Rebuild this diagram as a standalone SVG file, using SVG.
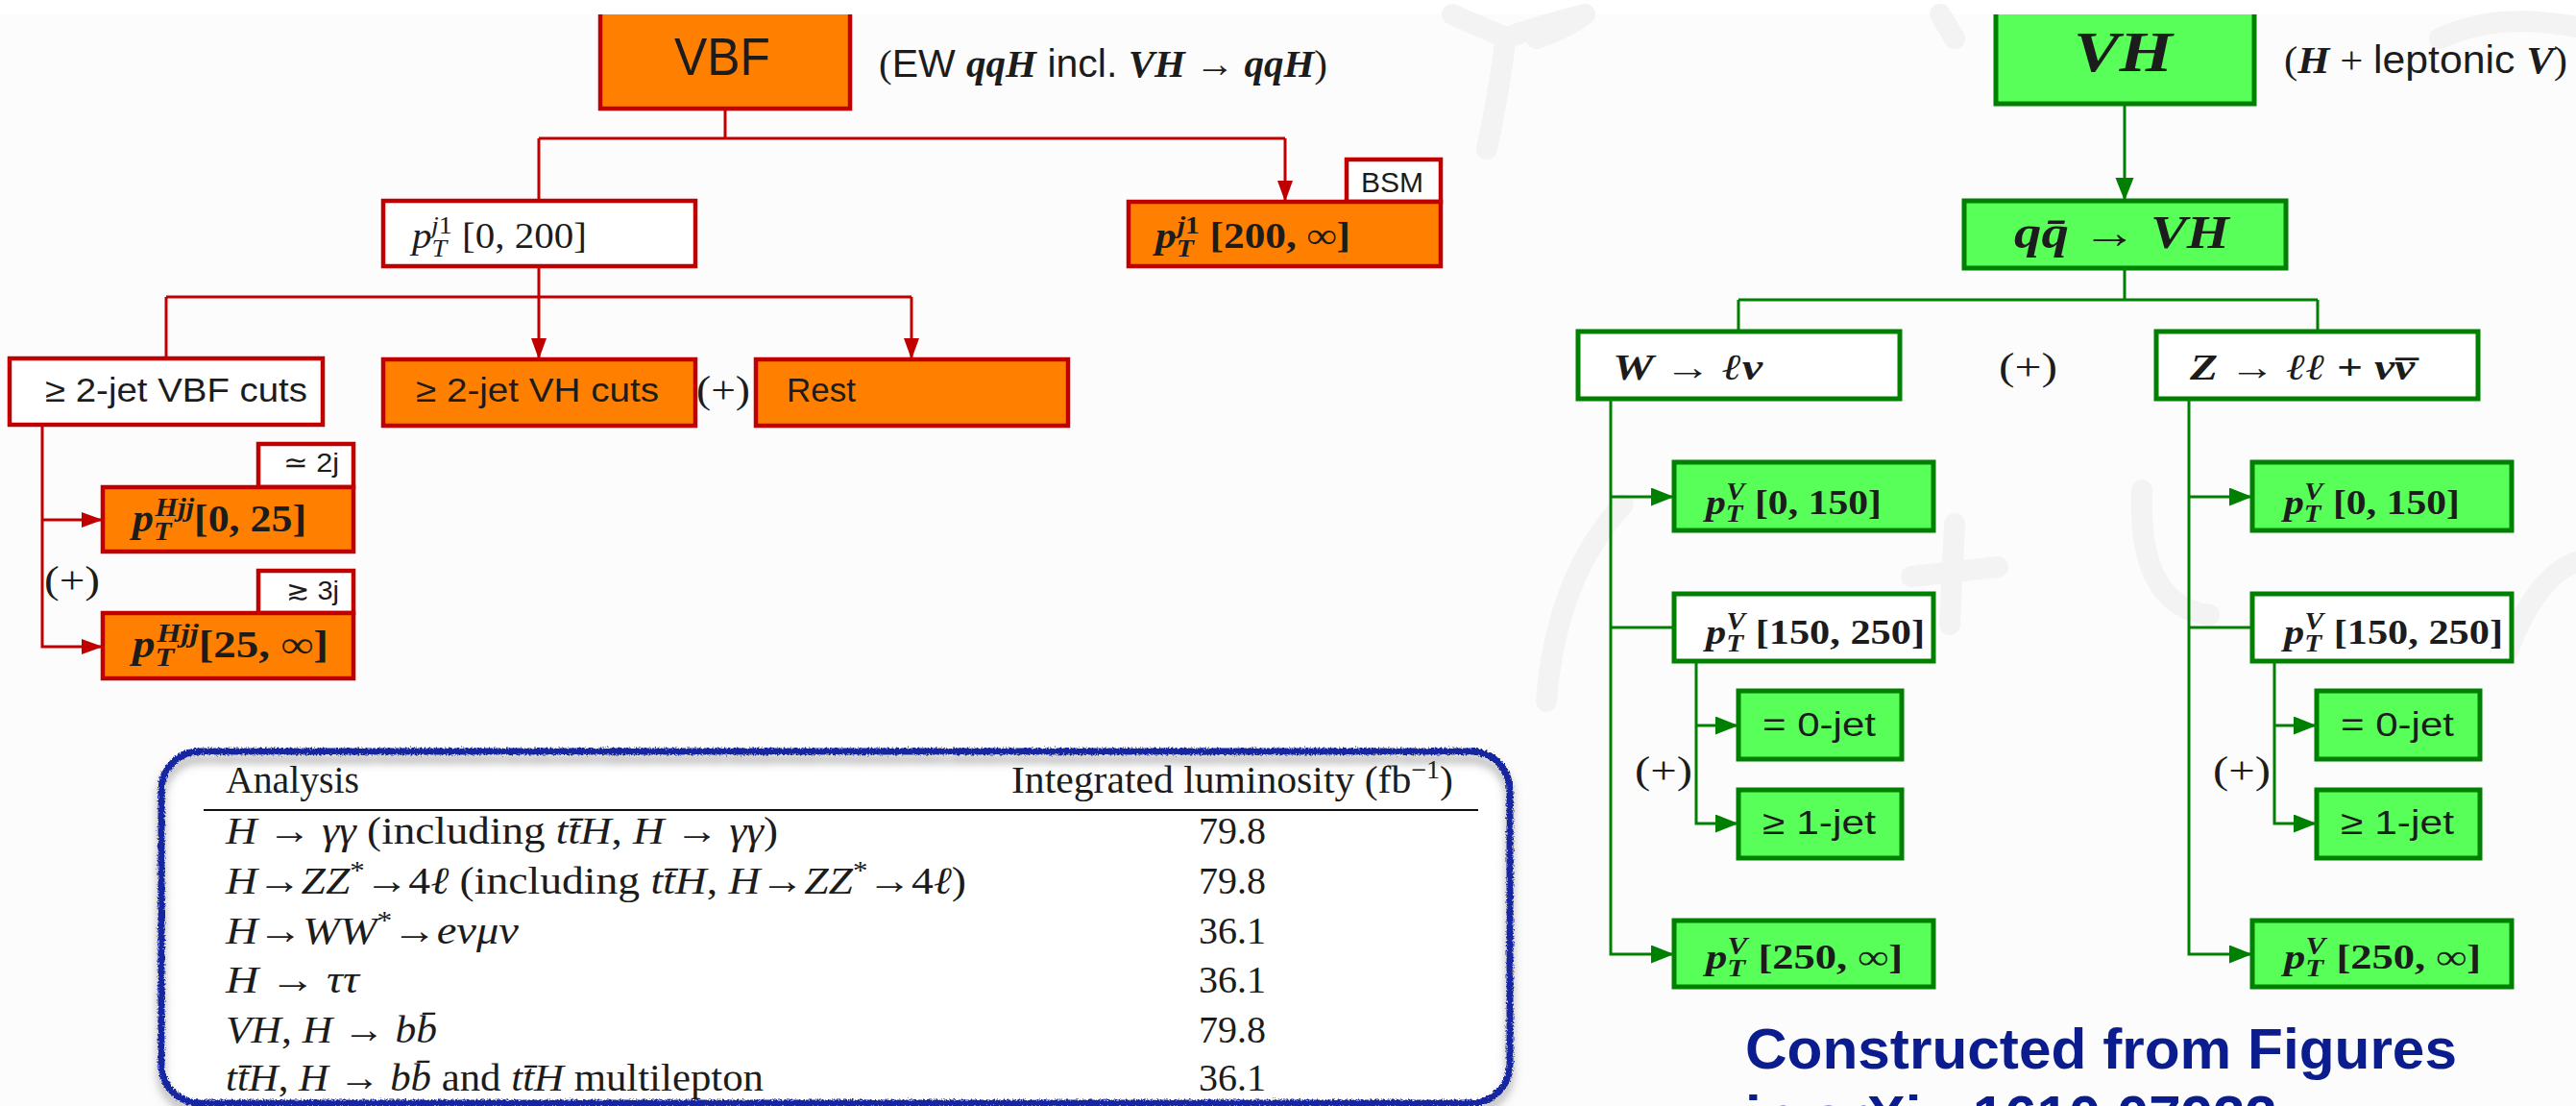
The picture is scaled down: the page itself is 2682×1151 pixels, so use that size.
<svg xmlns="http://www.w3.org/2000/svg" width="2682" height="1151" viewBox="0 0 2682 1151">
<defs>
<style>
.sans{font-family:"Liberation Sans",Arial,"DejaVu Sans",sans-serif;fill:#1c1c1c}
.serif{font-family:"Liberation Serif","Times New Roman","DejaVu Serif",serif;fill:#1c1c1c}
.sym{font-family:"DejaVu Sans",sans-serif}
.it{font-style:italic}
.bf{font-weight:bold}
.rw{fill:#fff;stroke:#c00000;stroke-width:4.5}
.ro{fill:#ff8000;stroke:#c00000;stroke-width:4.5}
.gw{fill:#fff;stroke:#008000;stroke-width:5}
.gg{fill:#59ff59;stroke:#008000;stroke-width:5}
.rl{fill:none;stroke:#c00000;stroke-width:3}
.gl{fill:none;stroke:#008000;stroke-width:3}
.wm{fill:none;stroke:#f3f3f3;stroke-width:22;stroke-linecap:round;stroke-linejoin:round}
.tb{font-size:40px}
.cap{font-family:"Liberation Sans",Arial,sans-serif;font-weight:bold;font-size:60px;fill:#0b1d8e}
</style>
<marker id="ar" markerUnits="userSpaceOnUse" markerWidth="24" markerHeight="18" refX="22" refY="8" orient="auto"><path d="M0,0L22,8L0,16z" fill="#c00000"/></marker>
<marker id="ag" markerUnits="userSpaceOnUse" markerWidth="26" markerHeight="20" refX="24" refY="9.5" orient="auto"><path d="M0,0L24,9.5L0,19z" fill="#008000"/></marker>
<clipPath id="cut"><rect x="0" y="15" width="2682" height="1136"/></clipPath>
<filter id="rough" x="-2%" y="-5%" width="104%" height="110%"><feTurbulence type="fractalNoise" baseFrequency="0.55" numOctaves="2" seed="3" result="n"/><feDisplacementMap in="SourceGraphic" in2="n" scale="5" xChannelSelector="R" yChannelSelector="G"/></filter>
<filter id="shadow" x="-3%" y="-5%" width="106%" height="115%"><feDropShadow dx="0" dy="8" stdDeviation="5" flood-color="#666" flood-opacity="0.55"/></filter>
</defs>

<rect x="0" y="0" width="2682" height="1151" fill="#fcfcfc"/>
<rect x="0" y="0" width="2682" height="15" fill="#ffffff"/>

<g id="watermark">
<path class="wm" d="M1512,15 Q1545,30 1566,38 M1650,15 Q1600,28 1572,38 M1568,38 Q1560,100 1548,155"/>
<path class="wm" d="M1600,40 Q1630,30 1650,15 M2020,15 L2035,40 M2540,40 Q2600,12 2682,28"/>
<path class="wm" d="M1690,525 Q1620,600 1610,730 M1990,600 L2080,590 M2035,545 L2030,650 M2230,510 Q2225,630 2300,640 M2610,680 Q2640,600 2682,585"/>
<path class="wm" d="M1390,1020 Q1440,1010 1430,1040 Q1400,1070 1445,1080 M1195,1025 L1175,1135 M950,1075 Q1030,1100 1040,1150 M866,985 L862,1130 M840,1130 Q900,1030 975,1060"/>
</g>

<g id="connectors">
<path class="rl" d="M755,113 V144 M561,144 H1338 M561,144 V209"/>
<path class="rl" d="M1338,144 V210" marker-end="url(#ar)"/>
<path class="rl" d="M561,277 V309 M173,309 H949 M173,309 V373"/>
<path class="rl" d="M561,309 V374" marker-end="url(#ar)"/>
<path class="rl" d="M949,309 V374" marker-end="url(#ar)"/>
<path class="rl" d="M44,442 V673 H107" marker-end="url(#ar)"/>
<path class="rl" d="M44,541 H107" marker-end="url(#ar)"/>

<path class="gl" d="M2212,108 V209" marker-end="url(#ag)"/>
<path class="gl" d="M2212,279 V312 M1810,312 H2413 M1810,312 V345 M2413,312 V345"/>
<path class="gl" d="M1677,415 V993 H1743" marker-end="url(#ag)"/>
<path class="gl" d="M1677,517 H1743" marker-end="url(#ag)"/>
<path class="gl" d="M1677,653 H1743"/>
<path class="gl" d="M1766,688 V857 H1810" marker-end="url(#ag)"/>
<path class="gl" d="M1766,755 H1810" marker-end="url(#ag)"/>
<path class="gl" d="M2279,415 V993 H2345" marker-end="url(#ag)"/>
<path class="gl" d="M2279,517 H2345" marker-end="url(#ag)"/>
<path class="gl" d="M2279,653 H2345"/>
<path class="gl" d="M2368,688 V857 H2412" marker-end="url(#ag)"/>
<path class="gl" d="M2368,755 H2412" marker-end="url(#ag)"/>
</g>

<!-- VBF tree -->
<g id="vbf">
<rect class="ro" x="625" y="-10" width="260" height="123" clip-path="url(#cut)"/>
<text class="sans" x="702" y="78" font-size="56" textLength="100" lengthAdjust="spacingAndGlyphs">VBF</text>
</g>
<g id="vbf-note">
<text class="serif" x="915" y="80" font-size="40" textLength="467" lengthAdjust="spacingAndGlyphs">(<tspan class="sans">EW </tspan><tspan class="it bf">qqH</tspan><tspan class="sans"> incl. </tspan><tspan class="it bf">VH</tspan> → <tspan class="it bf">qqH</tspan>)</text>
</g>
<g id="ptj1-low">
<rect class="rw" x="399" y="209" width="325" height="68"/>
<text class="serif" x="429" y="258" font-size="38" textLength="182" lengthAdjust="spacingAndGlyphs"><tspan class="it">p</tspan><tspan class="it" font-size="26" dy="9">T</tspan><tspan font-size="26" dx="-15" dy="-24"><tspan class="it">j</tspan>1</tspan><tspan dy="15"> [0, 200]</tspan></text>
</g>
<g id="ptj1-high">
<rect class="rw" x="1402" y="166" width="98" height="44"/>
<text class="sans" x="1417" y="200" font-size="30" textLength="65" lengthAdjust="spacingAndGlyphs">BSM</text>
<rect class="ro" x="1175" y="210" width="325" height="67"/>
<text class="serif bf" x="1203" y="258" font-size="38" textLength="203" lengthAdjust="spacingAndGlyphs"><tspan class="it">p</tspan><tspan class="it" font-size="26" dy="9">T</tspan><tspan font-size="26" dx="-15" dy="-24"><tspan class="it">j</tspan>1</tspan><tspan dy="15"> [200, ∞]</tspan></text>
</g>
<g id="vbf-cuts">
<rect class="rw" x="10" y="373" width="326" height="69"/>
<text class="sans" x="47" y="418" font-size="35" textLength="273" lengthAdjust="spacingAndGlyphs">≥ 2-jet VBF cuts</text>
</g>
<g id="vh-cuts">
<rect class="ro" x="399" y="374" width="325" height="69"/>
<text class="sans" x="433" y="418" font-size="35" textLength="253" lengthAdjust="spacingAndGlyphs">≥ 2-jet VH cuts</text>
</g>
<g id="plus1"><text class="serif" x="725" y="419" font-size="40" textLength="56" lengthAdjust="spacingAndGlyphs">(+)</text></g>
<g id="rest">
<rect class="ro" x="787" y="374" width="325" height="69"/>
<text class="sans" x="819" y="418" font-size="35" textLength="72" lengthAdjust="spacingAndGlyphs">Rest</text>
</g>
<g id="pthjj-low">
<rect class="rw" x="269" y="462" width="99" height="45"/>
<text class="sans" x="295" y="491" font-size="28" textLength="58" lengthAdjust="spacingAndGlyphs"><tspan class="sym">≃</tspan> 2j</text>
<rect class="ro" x="107" y="507" width="261" height="67"/>
<text class="serif bf" x="138" y="553" font-size="39" textLength="181" lengthAdjust="spacingAndGlyphs"><tspan class="it">p</tspan><tspan class="it" font-size="27" dy="9">T</tspan><tspan class="it" font-size="27" dx="-15" dy="-25">Hjj</tspan><tspan dy="16">[0, 25]</tspan></text>
</g>
<g id="plus2"><text class="serif" x="46" y="617" font-size="40" textLength="58" lengthAdjust="spacingAndGlyphs">(+)</text></g>
<g id="pthjj-high">
<rect class="rw" x="269" y="594" width="99" height="44"/>
<text class="sans" x="298" y="624" font-size="28" textLength="55" lengthAdjust="spacingAndGlyphs"><tspan class="sym">≳</tspan> 3j</text>
<rect class="ro" x="107" y="638" width="261" height="68"/>
<text class="serif bf" x="138" y="684" font-size="39" textLength="204" lengthAdjust="spacingAndGlyphs"><tspan class="it">p</tspan><tspan class="it" font-size="27" dy="9">T</tspan><tspan class="it" font-size="27" dx="-15" dy="-25">Hjj</tspan><tspan dy="16">[25, ∞]</tspan></text>
</g>

<!-- VH tree -->
<g id="vh">
<rect class="gg" x="2078" y="-10" width="269" height="118" clip-path="url(#cut)"/>
<text class="serif it bf" x="2159" y="74" font-size="59" textLength="103" lengthAdjust="spacingAndGlyphs">VH</text>
</g>
<g id="vh-note">
<text class="serif" x="2378" y="76" font-size="40" textLength="295" lengthAdjust="spacingAndGlyphs">(<tspan class="it bf">H</tspan> + <tspan class="sans">leptonic </tspan><tspan class="it bf">V</tspan>)</text>
</g>
<g id="qqvh">
<rect class="gg" x="2045" y="209" width="335" height="70"/>
<text class="serif it bf" x="2097" y="258" font-size="48" textLength="224" lengthAdjust="spacingAndGlyphs">qq̄ <tspan font-style="normal">→</tspan> VH</text>
</g>
<g id="wlnu">
<rect class="gw" x="1643" y="345" width="335" height="70"/>
<text class="serif it bf" x="1679" y="395" font-size="38" textLength="156" lengthAdjust="spacingAndGlyphs">W <tspan font-style="normal">→</tspan> ℓν</text>
</g>
<g id="plus3"><text class="serif" x="2081" y="395" font-size="40" textLength="61" lengthAdjust="spacingAndGlyphs">(+)</text></g>
<g id="zll">
<rect class="gw" x="2245" y="345" width="335" height="70"/>
<text class="serif it bf" x="2280" y="395" font-size="38" textLength="238" lengthAdjust="spacingAndGlyphs">Z <tspan font-style="normal">→</tspan> ℓℓ <tspan font-style="normal">+</tspan> νν<tspan font-style="normal" dx="-16" dy="6">¯</tspan></text>
</g>

<g id="w-ptv-0-150">
<rect class="gg" x="1743" y="481" width="270" height="71"/>
<text class="serif bf" x="1776" y="535" font-size="36" textLength="183" lengthAdjust="spacingAndGlyphs"><tspan class="it">p</tspan><tspan class="it" font-size="25" dy="8">T</tspan><tspan class="it" font-size="25" dx="-15" dy="-23">V</tspan><tspan dy="15"> [0, 150]</tspan></text>
</g>
<g id="w-ptv-150-250">
<rect class="gw" x="1743" y="618" width="270" height="70"/>
<text class="serif bf" x="1776" y="670" font-size="36" textLength="228" lengthAdjust="spacingAndGlyphs"><tspan class="it">p</tspan><tspan class="it" font-size="25" dy="8">T</tspan><tspan class="it" font-size="25" dx="-15" dy="-23">V</tspan><tspan dy="15"> [150, 250]</tspan></text>
</g>
<g id="w-0jet">
<rect class="gg" x="1810" y="719" width="170" height="71"/>
<text class="sans" x="1835" y="766" font-size="35" textLength="118" lengthAdjust="spacingAndGlyphs">= 0-jet</text>
</g>
<g id="plus4"><text class="serif" x="1702" y="815" font-size="40" textLength="60" lengthAdjust="spacingAndGlyphs">(+)</text></g>
<g id="w-1jet">
<rect class="gg" x="1810" y="822" width="170" height="71"/>
<text class="sans" x="1835" y="868" font-size="35" textLength="118" lengthAdjust="spacingAndGlyphs">≥ 1-jet</text>
</g>
<g id="w-ptv-250">
<rect class="gg" x="1743" y="958" width="270" height="69"/>
<text class="serif bf" x="1776" y="1008" font-size="36" textLength="205" lengthAdjust="spacingAndGlyphs"><tspan class="it">p</tspan><tspan class="it" font-size="25" dy="8">T</tspan><tspan class="it" font-size="25" dx="-15" dy="-23">V</tspan><tspan dy="15"> [250, ∞]</tspan></text>
</g>

<g id="z-ptv-0-150">
<rect class="gg" x="2345" y="481" width="270" height="71"/>
<text class="serif bf" x="2378" y="535" font-size="36" textLength="183" lengthAdjust="spacingAndGlyphs"><tspan class="it">p</tspan><tspan class="it" font-size="25" dy="8">T</tspan><tspan class="it" font-size="25" dx="-15" dy="-23">V</tspan><tspan dy="15"> [0, 150]</tspan></text>
</g>
<g id="z-ptv-150-250">
<rect class="gw" x="2345" y="618" width="270" height="70"/>
<text class="serif bf" x="2378" y="670" font-size="36" textLength="228" lengthAdjust="spacingAndGlyphs"><tspan class="it">p</tspan><tspan class="it" font-size="25" dy="8">T</tspan><tspan class="it" font-size="25" dx="-15" dy="-23">V</tspan><tspan dy="15"> [150, 250]</tspan></text>
</g>
<g id="z-0jet">
<rect class="gg" x="2412" y="719" width="170" height="71"/>
<text class="sans" x="2437" y="766" font-size="35" textLength="118" lengthAdjust="spacingAndGlyphs">= 0-jet</text>
</g>
<g id="plus5"><text class="serif" x="2304" y="815" font-size="40" textLength="60" lengthAdjust="spacingAndGlyphs">(+)</text></g>
<g id="z-1jet">
<rect class="gg" x="2412" y="822" width="170" height="71"/>
<text class="sans" x="2437" y="868" font-size="35" textLength="118" lengthAdjust="spacingAndGlyphs">≥ 1-jet</text>
</g>
<g id="z-ptv-250">
<rect class="gg" x="2345" y="958" width="270" height="69"/>
<text class="serif bf" x="2378" y="1008" font-size="36" textLength="205" lengthAdjust="spacingAndGlyphs"><tspan class="it">p</tspan><tspan class="it" font-size="25" dy="8">T</tspan><tspan class="it" font-size="25" dx="-15" dy="-23">V</tspan><tspan dy="15"> [250, ∞]</tspan></text>
</g>

<!-- Table -->
<g id="table">
<rect x="168" y="782" width="1404" height="366" rx="40" fill="#ffffff"/>
<g filter="url(#shadow)"><rect x="168" y="782" width="1404" height="366" rx="40" fill="none" stroke="#1526a0" stroke-width="7" filter="url(#rough)"/></g>
<text class="serif tb" x="235" y="825" textLength="139" lengthAdjust="spacingAndGlyphs">Analysis</text>
<text class="serif tb" x="1053" y="825" textLength="460" lengthAdjust="spacingAndGlyphs">Integrated luminosity (fb<tspan font-size="27" dy="-15">−1</tspan><tspan dy="15">)</tspan></text>
<path d="M212,843 H1539" stroke="#111" stroke-width="2"/>
<text class="serif tb" x="235" y="878" textLength="575" lengthAdjust="spacingAndGlyphs"><tspan class="it">H</tspan> → <tspan class="it">γγ</tspan> (including <tspan class="it">tt̄H</tspan>, <tspan class="it">H</tspan> → <tspan class="it">γγ</tspan>)</text>
<text class="serif tb" x="235" y="930" textLength="771" lengthAdjust="spacingAndGlyphs"><tspan class="it">H</tspan>→<tspan class="it">ZZ</tspan><tspan font-size="27" dy="-15">*</tspan><tspan dy="15">→4</tspan><tspan class="it">ℓ</tspan> (including <tspan class="it">tt̄H</tspan>, <tspan class="it">H</tspan>→<tspan class="it">ZZ</tspan><tspan font-size="27" dy="-15">*</tspan><tspan dy="15">→4</tspan><tspan class="it">ℓ</tspan>)</text>
<text class="serif tb" x="235" y="982" textLength="305" lengthAdjust="spacingAndGlyphs"><tspan class="it">H</tspan>→<tspan class="it">WW</tspan><tspan font-size="27" dy="-15">*</tspan><tspan dy="15">→</tspan><tspan class="it">eνμν</tspan></text>
<text class="serif tb" x="235" y="1033" textLength="139" lengthAdjust="spacingAndGlyphs"><tspan class="it">H</tspan> → <tspan class="it">ττ</tspan></text>
<text class="serif tb" x="235" y="1085" textLength="220" lengthAdjust="spacingAndGlyphs"><tspan class="it">VH</tspan>, <tspan class="it">H</tspan> → <tspan class="it">bb̄</tspan></text>
<text class="serif tb" x="235" y="1135" textLength="560" lengthAdjust="spacingAndGlyphs"><tspan class="it">tt̄H</tspan>, <tspan class="it">H</tspan> → <tspan class="it">bb̄</tspan> and <tspan class="it">tt̄H</tspan> multilepton</text>
<g class="serif tb" text-anchor="middle">
<text x="1283" y="878">79.8</text>
<text x="1283" y="930">79.8</text>
<text x="1283" y="982">36.1</text>
<text x="1283" y="1033">36.1</text>
<text x="1283" y="1085">79.8</text>
<text x="1283" y="1135">36.1</text>
</g>
</g>

<g id="caption">
<text class="cap" x="1817" y="1112" textLength="741" lengthAdjust="spacingAndGlyphs">Constructed from Figures</text>
<text class="cap" x="1817" y="1182">in arXiv:1610.07922</text>
</g>
</svg>
